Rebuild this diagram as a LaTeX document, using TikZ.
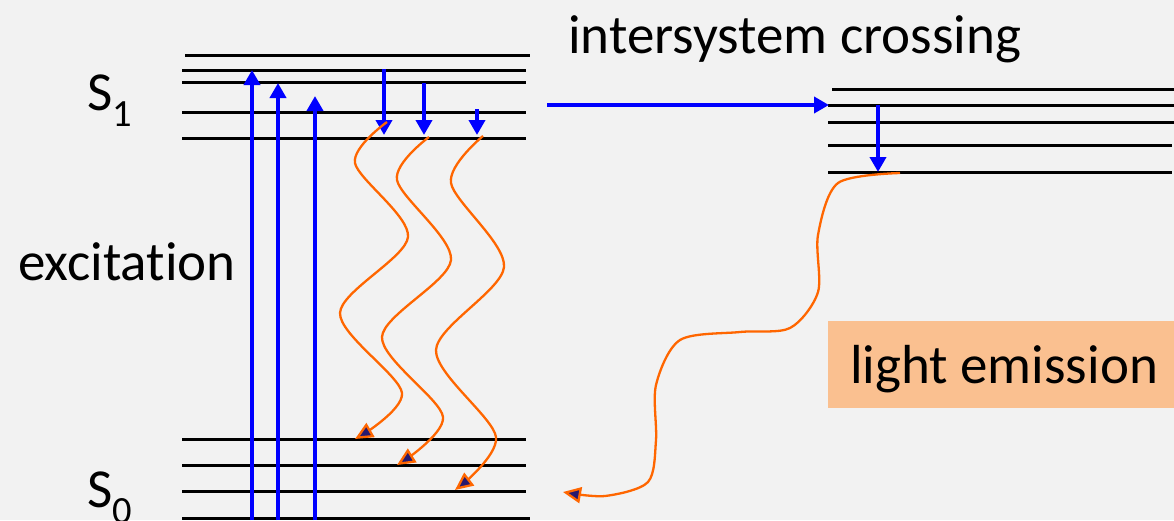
\documentclass[tikz,border=0pt]{standalone}
\usepackage{fontspec}
\setmainfont[Ligatures=NoCommon]{Carlito}
\usetikzlibrary{arrows.meta}
\definecolor{bgcol}{RGB}{242,242,242}
\definecolor{emiscol}{RGB}{250,192,144}
\definecolor{wavecol}{RGB}{255,102,0}
\definecolor{tipcol}{RGB}{40,25,110}
\tikzset{
  level/.style={line width=3pt},
  transition/.style={blue, line width=4pt, -{Triangle[length=15pt,width=16pt]}},
  decay/.style={wavecol, line width=2.3pt, -{Triangle[length=18pt,width=16pt,fill=tipcol]}},
}
\begin{document}
\begin{tikzpicture}[x=1pt,y=-1pt,font=\fontsize{55}{60}\selectfont]
  \fill[bgcol] (0,0) rectangle (1174,520);
  \useasboundingbox (0,0) rectangle (1174,520);

  % vibrational levels
  \draw[level] (185,55) -- (530,55);
  \foreach \y in {70,82,112,138}
    \draw[level] (182,\y) -- (526,\y);
  \foreach \y in {439,465,491}
    \draw[level] (182,\y) -- (526,\y);
  \draw[level] (182,518) -- (530,518);
  \draw[level] (832,89) -- (1174,89);
  \foreach \y in {105,122}
    \draw[level] (828,\y) -- (1174,\y);
  \foreach \y in {145,172}
    \draw[level] (828,\y) -- (1172,\y);

  % labels
  \node[anchor=base west, inner sep=0pt] (s1) at (87,110) {S$_{\mathrm{1}}$};
  \node[anchor=base west, inner sep=0pt] (s0) at (87,507) {S$_{\mathrm{0}}$};
  \node[anchor=base west, inner sep=0pt] (exc) at (18,280) {excitation};
  \node[anchor=base west, inner sep=0pt] (isc) at (568,53) {intersystem crossing};
  \node[fill=emiscol, minimum width=346pt, minimum height=87pt, inner sep=0pt] (emis) at (1001,364.5) {};
  \node[anchor=base west, inner sep=0pt] (emtext) at (850,383) {light emission};

  % end points
  \coordinate (e1a) at (252,520); \coordinate (e1b) at (252,70);
  \coordinate (e2a) at (278,520); \coordinate (e2b) at (278,83);
  \coordinate (e3a) at (315,520); \coordinate (e3b) at (315,96);
  \coordinate (r1a) at (384,69);  \coordinate (r1b) at (384,135);
  \coordinate (r2a) at (424,83);  \coordinate (r2b) at (424,135);
  \coordinate (r3a) at (477,109); \coordinate (r3b) at (477,135);
  \coordinate (xa) at (547,105);  \coordinate (xb) at (829,105);
  \coordinate (ta) at (878,105);  \coordinate (tb) at (878,172);

  % excitation and relaxation
  \draw[transition] (e1a) -- (e1b);
  \draw[transition] (e2a) -- (e2b);
  \draw[transition] (e3a) -- (e3b);
  \draw[transition] (r1a) -- (r1b);
  \draw[transition] (r2a) -- (r2b);
  \draw[transition] (r3a) -- (r3b);
  \draw[transition] (xa) -- (xb);
  \draw[transition] (ta) -- (tb);

  % non-radiative decay
  \draw[decay] plot[smooth] coordinates {(387,122) (355,163) (408,237) (340,313) (402,393) (355,439)};
  \draw[decay] plot[smooth] coordinates {(429,137) (397,180) (451,260) (382,337) (443,417) (397,465)};
  \draw[decay] plot[smooth] coordinates {(483,136) (451,183) (504,267) (436,350) (496,437) (455,490)};

  % emission
  \draw[decay] plot[smooth] coordinates {(900,173) (838,183) (818,235) (818,292) (790,328) (740,332) (680,340) (656,385) (656,440) (648,482) (605,496) (563,492)};
\end{tikzpicture}
\end{document}
